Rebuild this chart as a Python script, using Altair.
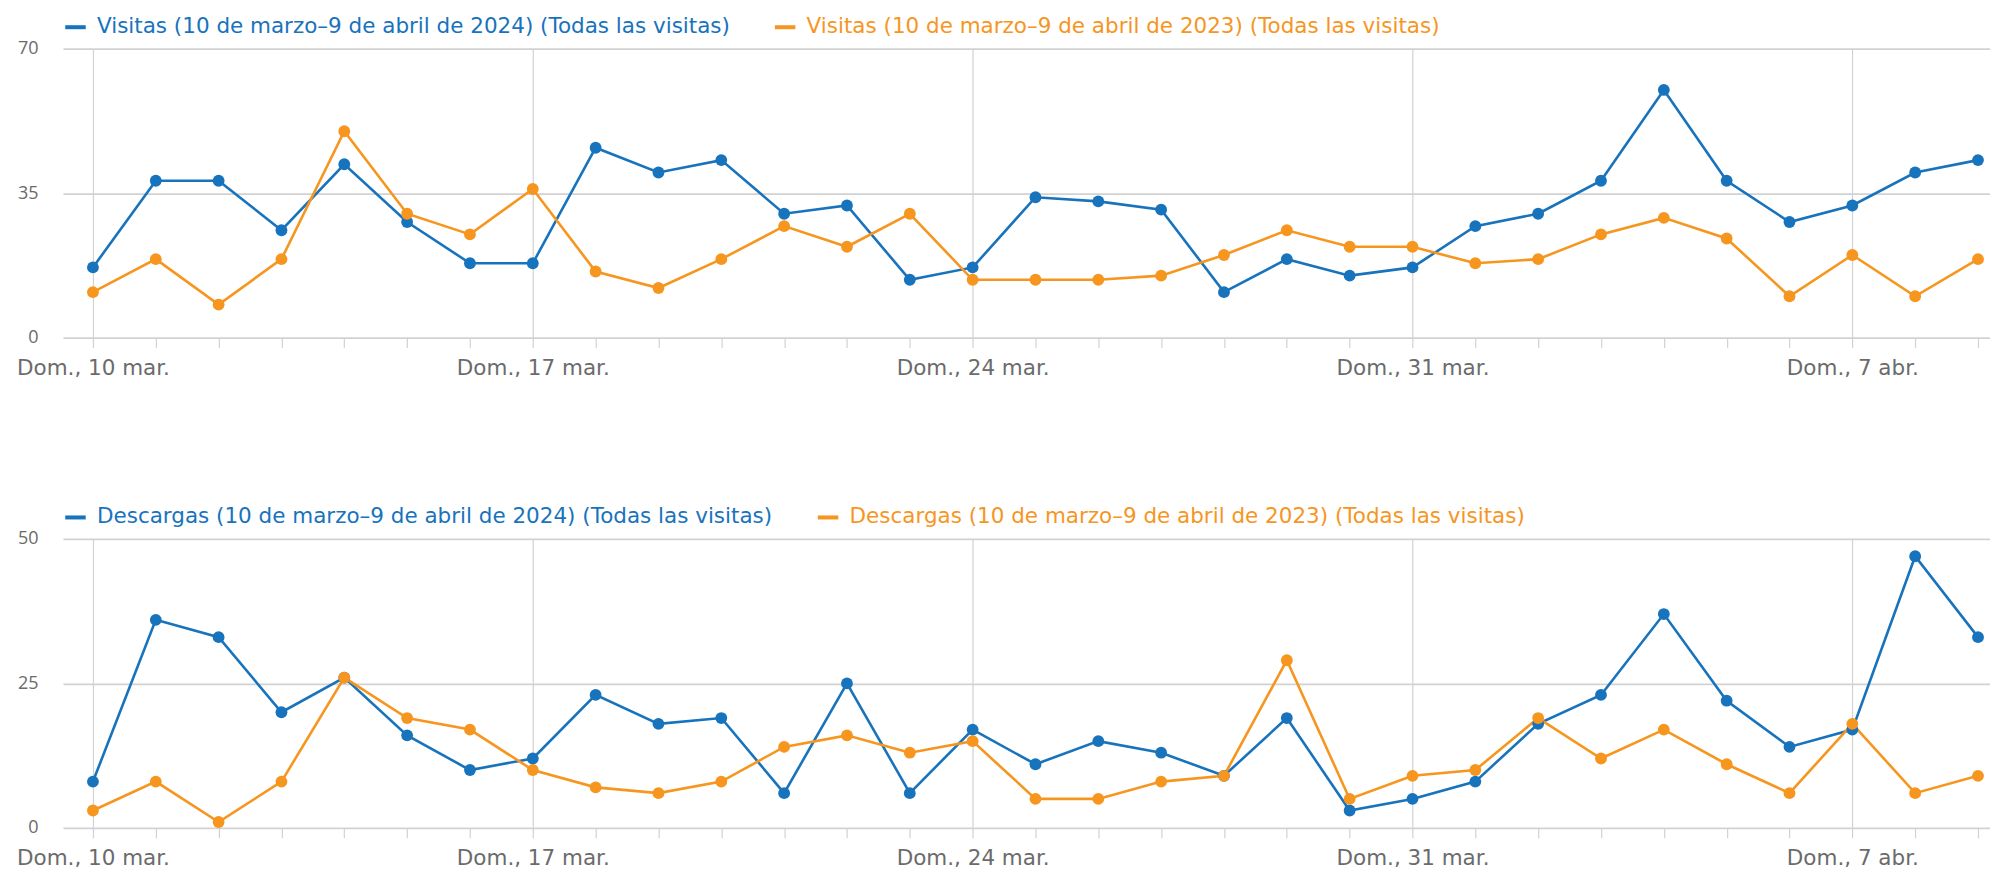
import altair as alt
import pandas as pd
from datetime import datetime, timezone

# ---------------- data ----------------
dates = [
    "2024-03-10", "2024-03-11", "2024-03-12", "2024-03-13", "2024-03-14", "2024-03-15", "2024-03-16",
    "2024-03-17", "2024-03-18", "2024-03-19", "2024-03-20", "2024-03-21", "2024-03-22", "2024-03-23",
    "2024-03-24", "2024-03-25", "2024-03-26", "2024-03-27", "2024-03-28", "2024-03-29", "2024-03-30",
    "2024-03-31", "2024-04-01", "2024-04-02", "2024-04-03", "2024-04-04", "2024-04-05", "2024-04-06",
    "2024-04-07", "2024-04-08", "2024-04-09",
]

visitas_2024 = [17, 38, 38, 26, 42, 28, 18, 18, 46, 40, 43, 30, 32, 14, 17, 34, 33, 31, 11, 19, 15,
                17, 27, 30, 38, 60, 38, 28, 32, 40, 43]
visitas_2023 = [11, 19, 8, 19, 50, 30, 25, 36, 16, 12, 19, 27, 22, 30, 14, 14, 14, 15, 20, 26, 22,
                22, 18, 19, 25, 29, 24, 10, 20, 10, 19]
descargas_2024 = [8, 36, 33, 20, 26, 16, 10, 12, 23, 18, 19, 6, 25, 6, 17, 11, 15, 13, 9, 19, 3,
                  5, 8, 18, 23, 37, 22, 14, 17, 47, 33]
descargas_2023 = [3, 8, 1, 8, 26, 19, 17, 10, 7, 6, 8, 14, 16, 13, 15, 5, 5, 8, 9, 29, 5,
                  9, 10, 19, 12, 17, 11, 6, 18, 6, 9]

serie_v24 = "Visitas (10 de marzo–9 de abril de 2024) (Todas las visitas)"
serie_v23 = "Visitas (10 de marzo–9 de abril de 2023) (Todas las visitas)"
serie_d24 = "Descargas (10 de marzo–9 de abril de 2024) (Todas las visitas)"
serie_d23 = "Descargas (10 de marzo–9 de abril de 2023) (Todas las visitas)"

visitas_ticks = [0, 35, 70]
descargas_ticks = [0, 25, 50]
meses = ["ene.", "feb.", "mar.", "abr.", "may.", "jun.", "jul.", "ago.", "sept.", "oct.", "nov.", "dic."]
dia_semana = "Dom.,"

# ---------------- styling ----------------
BLUE = "#1873bd"
ORANGE = "#f6961f"
GRID = "#d2d2d2"
LABEL = "#6b6b6b"
FONT = "DejaVu Sans"
NUM_FONT = "Open Sans"

DAY = 86400000


def ts(s):
    d = datetime.strptime(s, "%Y-%m-%d").replace(tzinfo=timezone.utc)
    return int(d.timestamp() * 1000)


date_ts = [ts(d) for d in dates]
x_domain = [date_ts[0] - 0.477 * DAY, date_ts[-1] + 0.191 * DAY]

label_expr = (
    "utcday(datum.value) == 0 ? '" + dia_semana + " ' + utcdate(datum.value) + ' ' + "
    + str(meses).replace('"', "'") + "[utcmonth(datum.value)] : ''"
)

x_axis = alt.Axis(
    values=date_ts,
    labelExpr=label_expr,
    title=None,
    domain=False,
    ticks=True,
    tickSize=10,
    tickColor=GRID,
    tickWidth=1.2,
    grid=True,
    gridColor=GRID,
    gridWidth=1.2,
    gridOpacity={"condition": {"test": "utcday(datum.value) == 0", "value": 1}, "value": 0},
    labelFont=FONT,
    labelFontSize=21.5,
    labelColor=LABEL,
    labelPadding=10,
    labelOverlap=False,
    labelFlush=False,
    labelBound=False,
)


def panel(values_a, values_b, name_a, name_b, ticks):
    df = pd.DataFrame({
        "fecha": dates * 2,
        "valor": values_a + values_b,
        "serie": [name_a] * len(dates) + [name_b] * len(dates),
    })
    legend = alt.Legend(
        title=None,
        orient="none",
        legendX=0,
        legendY=-34,
        direction="horizontal",
        symbolType="stroke",
        symbolStrokeWidth=4,
        symbolSize=420,
        symbolOpacity=1,
        labelFont=FONT,
        labelFontSize=21.5,
        labelLimit=2000,
        labelOffset=9,
        columnPadding=36,
        labelColor=alt.ExprRef(
            "datum.value == '" + name_a + "' ? '" + BLUE + "' : '" + ORANGE + "'"
        ),
    )
    base = alt.Chart(df).encode(
        x=alt.X("fecha:T", scale=alt.Scale(type="utc", domain=x_domain, nice=False), axis=x_axis),
        y=alt.Y(
            "valor:Q",
            scale=alt.Scale(domain=[ticks[0], ticks[-1]], nice=False, zero=True),
            axis=alt.Axis(
                values=ticks,
                title=None,
                domain=False,
                ticks=False,
                grid=True,
                gridColor=GRID,
                gridWidth=1.8,
                labelFont=NUM_FONT,
                labelFontSize=18,
                labelColor=LABEL,
                labelPadding=25,
            ),
        ),
        color=alt.Color(
            "serie:N",
            scale=alt.Scale(domain=[name_a, name_b], range=[BLUE, ORANGE]),
            legend=legend,
        ),
    )
    lines = base.mark_line(strokeWidth=2.6)
    points = base.mark_circle(size=140, opacity=1)
    return alt.layer(lines, points).properties(width=1928, height=289)


top = panel(visitas_2024, visitas_2023, serie_v24, serie_v23, visitas_ticks)
bottom = panel(descargas_2024, descargas_2023, serie_d24, serie_d23, descargas_ticks)

chart = (
    alt.vconcat(top, bottom, spacing=125.5)
    .resolve_scale(color="independent")
    .resolve_legend(color="independent")
    .properties(padding={"left": 8, "top": 6.5, "right": 0, "bottom": 0})
    .configure_view(stroke=None)
)

chart.save("out.html", embed_options={"renderer": "svg", "actions": False})
